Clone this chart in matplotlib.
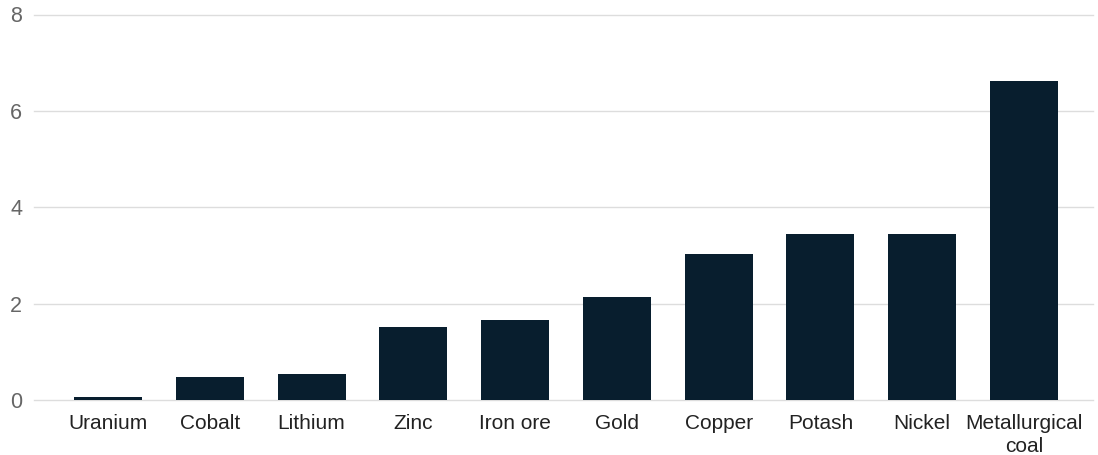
import matplotlib
matplotlib.use("Agg")
import matplotlib.pyplot as plt

categories = ["Uranium", "Cobalt", "Lithium", "Zinc", "Iron ore", "Gold",
              "Copper", "Potash", "Nickel", "Metallurgical\ncoal"]
values = [0.07, 0.48, 0.54, 1.52, 1.65, 2.14, 3.03, 3.44, 3.44, 6.63]
yticks = [0, 2, 4, 6, 8]

plt.rcParams['font.family'] = ['Liberation Sans', 'DejaVu Sans']

fig = plt.figure(figsize=(10.98, 4.55), dpi=100)
ax = fig.add_axes([34/1098, 55/455, (1093-34)/1098, (400-14.5)/455])

x = list(range(len(categories)))
ax.bar(x, values, width=0.668, color="#081e2e", zorder=3)

ax.set_ylim(0, 8)
ax.set_xlim(-0.727, 9.678)
ax.set_yticks(yticks)
ax.set_yticklabels([str(t) for t in yticks], fontsize=15.5, color="#666666")
ax.set_xticks(x)
ax.set_xticklabels(categories, fontsize=15, color="#222222", linespacing=1.25)
ax.tick_params(axis="y", length=0, pad=8.5)
ax.tick_params(axis="x", length=0, pad=10)
ax.grid(axis="y", color="#dddddd", linewidth=1.0, zorder=0)
for gl in ax.get_ygridlines():
    gl.set_clip_on(False)
for s in ax.spines.values():
    s.set_visible(False)

fig.savefig("out.png", dpi=100)
